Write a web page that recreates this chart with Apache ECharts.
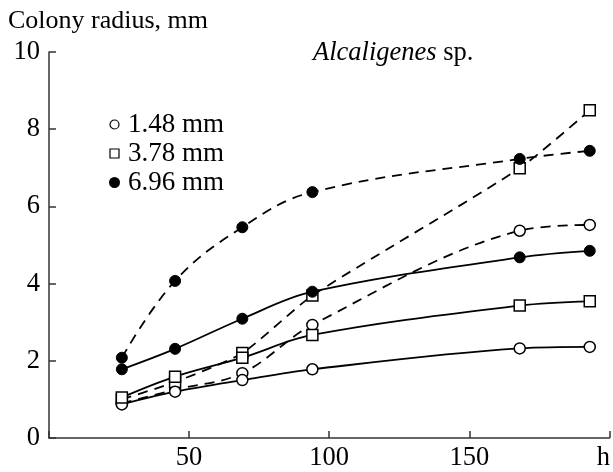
<!DOCTYPE html>
<html>
<head>
<meta charset="utf-8">
<script src="https://cdn.jsdelivr.net/npm/echarts@6/dist/echarts.min.js"></script>
<style>
  html, body { margin: 0; padding: 0; background: #fff; }
  #container { width: 613px; height: 472px; }
</style>
</head>
<body>
<div id="container"></div>
<script>
// sampling times, h
const hours = [26, 45, 69, 94, 168, 193];
// colony radius, mm — inoculum 1.48 mm (open circles)
const small_solid = [0.87, 1.2, 1.5, 1.78, 2.32, 2.36];
const small_dash = [0.9, 1.25, 1.68, 2.93, 5.37, 5.52];
// inoculum 3.78 mm (open squares)
const mid_solid = [1.05, 1.59, 2.08, 2.67, 3.43, 3.54];
const mid_dash = [1.0, 1.45, 2.2, 3.69, 6.99, 8.49];
// inoculum 6.96 mm (filled circles)
const big_solid = [1.78, 2.31, 3.09, 3.79, 4.68, 4.85];
const big_dash = [2.08, 4.07, 5.46, 6.37, 7.23, 7.44];

const xTicks = [0, 50, 100, 150, 200];
const yTicks = [0, 2, 4, 6, 8, 10];
const names = ['1.48 mm', '3.78 mm', '6.96 mm'];

const FONT = 'Liberation Serif';

let dom = document.getElementById('container');
let myChart = echarts.init(dom);

function pairs(ys) {
    return hours.map((h, i) => [h, ys[i]]);
}

const openStyle = { color: '#fff', borderColor: '#000', borderWidth: 1.5 };
const fillStyle = { color: '#000', borderColor: '#000', borderWidth: 1 };

function mkSeries(name, ys, symbol, style, dashed, smooth) {
    return {
        name: name,
        type: 'line',
        data: pairs(ys),
        smooth: smooth,
        symbol: symbol,
        symbolSize: 11,
        showAllSymbol: true,
        itemStyle: style,
        lineStyle: {
            color: '#000',
            width: 1.8,
            type: dashed ? [10, 7] : 'solid'
        },
        emphasis: { disabled: true },
        z: dashed ? 2 : 3
    };
}

let option = {
    animation: false,
    textStyle: { fontFamily: FONT },
    title: [{
        text: 'Colony radius, mm',
        left: 3,
        top: 3,
        textStyle: { fontFamily: FONT, fontSize: 26, fontWeight: 'normal', color: '#000' }
    }, {
        text: '{i|Alcaligenes} sp.',
        left: 308,
        top: 35,
        textStyle: {
            fontFamily: FONT, fontSize: 26.5, fontWeight: 'normal', color: '#000',
            rich: { i: { fontFamily: FONT, fontSize: 26.5, fontStyle: 'italic', color: '#000' } }
        }
    }],
    legend: {
        orient: 'vertical',
        left: 104,
        top: 106,
        itemGap: 2,
        itemWidth: 9,
        itemHeight: 9,
        selectedMode: false,
        textStyle: { fontFamily: FONT, fontSize: 27, color: '#000', padding: [0, 0, 0, 4] },
        data: [
            { name: names[0], icon: 'circle', itemStyle: { color: '#fff', borderColor: '#000', borderWidth: 1.2 } },
            { name: names[1], icon: 'rect', itemStyle: { color: '#fff', borderColor: '#000', borderWidth: 1.2 } },
            { name: names[2], icon: 'circle', itemStyle: { color: '#000' } }
        ]
    },
    grid: { left: 49, right: 3, top: 52, bottom: 30 },
    xAxis: {
        type: 'value',
        min: xTicks[0],
        max: xTicks[xTicks.length - 1],
        interval: 50,
        splitLine: { show: false },
        axisLine: { lineStyle: { color: '#333', width: 1.5 } },
        axisTick: { inside: true, length: 7, lineStyle: { color: '#333', width: 1.5 } },
        axisLabel: {
            margin: 7,
            color: '#000',
            fontFamily: FONT,
            fontSize: 26.5,
            formatter: function (v) {
                if (v === 0) return '';
                if (v === 200) return '{h|h}';
                return String(v);
            },
            rich: { h: { fontFamily: FONT, fontSize: 26.5, color: '#000', padding: [0, 12, 0, 0] } }
        }
    },
    yAxis: {
        type: 'value',
        min: yTicks[0],
        max: yTicks[yTicks.length - 1],
        interval: 2,
        splitLine: { show: false },
        axisLine: { show: true, lineStyle: { color: '#333', width: 1.5 } },
        axisTick: { show: true, inside: true, length: 7, lineStyle: { color: '#333', width: 1.5 } },
        axisLabel: { margin: 9, color: '#000', fontFamily: FONT, fontSize: 26.5 }
    },
    series: [
        mkSeries(names[0], small_solid, 'circle', openStyle, false, 0.35),
        mkSeries(names[0], small_dash, 'circle', openStyle, true, 0.35),
        mkSeries(names[1], mid_solid, 'rect', openStyle, false, 0.35),
        mkSeries(names[1], mid_dash, 'rect', openStyle, true, 0.2),
        mkSeries(names[2], big_solid, 'circle', fillStyle, false, 0.35),
        mkSeries(names[2], big_dash, 'circle', fillStyle, true, 0.4)
    ]
};

myChart.setOption(option, true);
</script>
</body>
</html>
